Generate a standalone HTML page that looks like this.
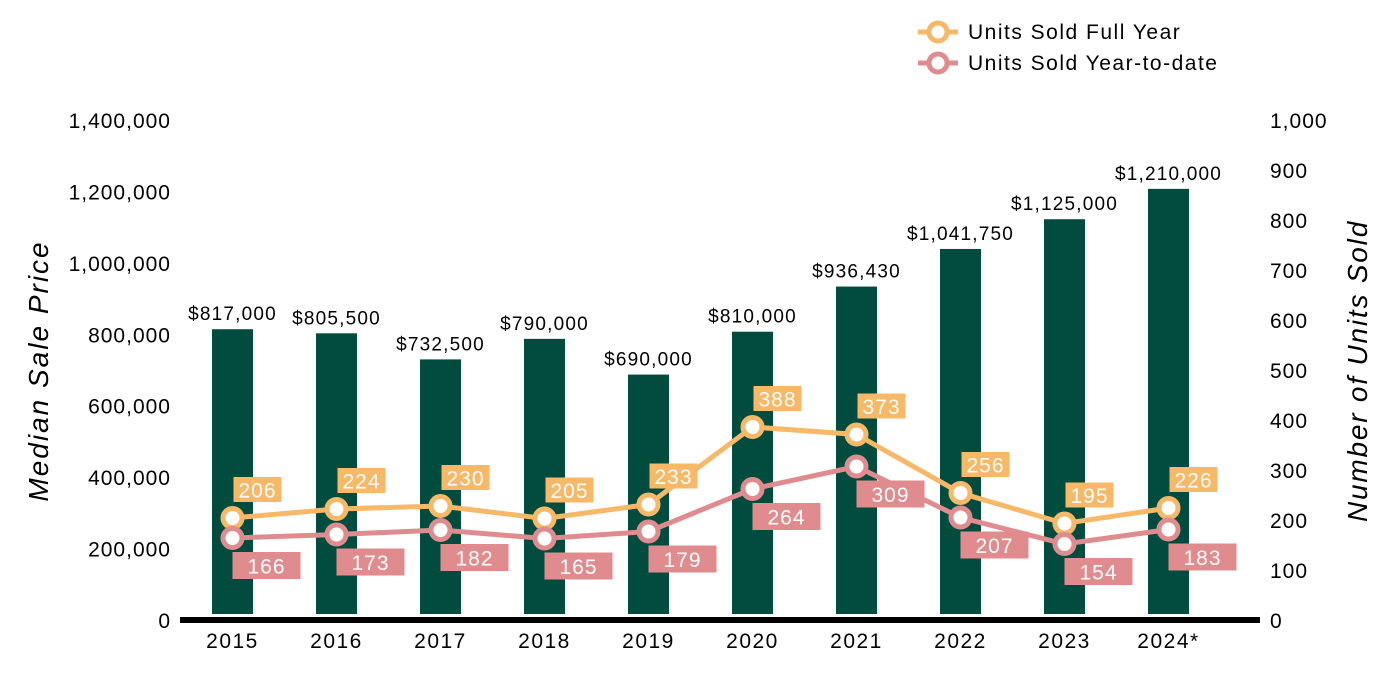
<!DOCTYPE html>
<html><head><meta charset="utf-8"><style>
body{margin:0;background:#fff;}
svg{display:block;font-family:"Liberation Sans",Arial,sans-serif;}
</style></head><body>
<svg id="c" width="1400" height="700"></svg>
<script>
const years=["2015","2016","2017","2018","2019","2020","2021","2022","2023","2024*"];
const prices=[817000,805500,732500,790000,690000,810000,936430,1041750,1125000,1210000];
const fullYear=[206,224,230,205,233,388,373,256,195,226];
const ytd=[166,173,182,165,179,264,309,207,154,183];
const leftTicks=[0,200000,400000,600000,800000,1000000,1200000,1400000];
const rightTicks=[0,100,200,300,400,500,600,700,800,900,1000];

const NS="http://www.w3.org/2000/svg";
const svg=document.getElementById('c');
const y0=621,yTop=121;
const yL=v=>y0-v/1400000*(y0-yTop);
const yR=v=>y0-v/1000*(y0-yTop);
const xC=i=>232.5+i*104;
function mk(tag,attrs,parent){const e=document.createElementNS(NS,tag);for(const k in attrs)e.setAttribute(k,attrs[k]);(parent||svg).appendChild(e);return e;}
const fmt=v=>v.toLocaleString('en-US');

leftTicks.forEach(t=>{const e=mk('text',{x:171,y:yL(t)+7,'text-anchor':'end','font-size':21,'letter-spacing':1,fill:'#000'});e.textContent=fmt(t);

});
rightTicks.forEach(t=>{const e=mk('text',{x:1270,y:yR(t)+7,'font-size':21,'letter-spacing':1,fill:'#000'});e.textContent=fmt(t);

});

let t=mk('text',{transform:'translate(48,371) rotate(-90)','text-anchor':'middle','font-size':28,'letter-spacing':2,'font-style':'italic',fill:'#000'});t.textContent='Median Sale Price';

t=mk('text',{transform:'translate(1367,371) rotate(-90)','text-anchor':'middle','font-size':28,'letter-spacing':1.8,'font-style':'italic',fill:'#000'});t.textContent='Number of Units Sold';


prices.forEach((p,i)=>{
 const b=mk('rect',{x:xC(i)-20.5,y:yL(p),width:41,height:614-yL(p),fill:'#024B3F'});
 
 
 const l=mk('text',{x:xC(i),y:yL(p)-9,'text-anchor':'middle','font-size':19,'letter-spacing':1.2,fill:'#000'});l.textContent='$'+fmt(p);
 
 
 const x=mk('text',{x:xC(i),y:648,'text-anchor':'middle','font-size':21,'letter-spacing':1.5,fill:'#000'});x.textContent=years[i];
 
 
});
const ax=mk('rect',{x:180,y:617,width:1080,height:6,fill:'#000'});


function series(vals,color,name,labelFn){
 const pl=mk('polyline',{points:vals.map((v,i)=>xC(i)+','+yR(v)).join(' '),fill:'none',stroke:color,'stroke-width':5});
 
 
 vals.forEach((v,i)=>{
  const c=mk('circle',{cx:xC(i),cy:yR(v),r:9.5,fill:'#fff',stroke:color,'stroke-width':5});
  
  
  const bx=labelFn(xC(i),yR(v));
  const r=mk('rect',{x:bx.x,y:bx.y,width:bx.w,height:bx.h,fill:color});
  
  
  const tx=mk('text',{x:bx.x+bx.w/2,y:bx.y+bx.h/2+8,'text-anchor':'middle','font-size':21,'letter-spacing':1,fill:'#fff'});tx.textContent=v;
  
  
 });
}
series(fullYear,'#F7B967','full-year',(x,y)=>({x:x+1,y:y-41,w:48,h:25}));
series(ytd,'#E08C8E','ytd',(x,y)=>({x:x,y:y+14,w:68,h:27}));

function legend(y,color,label,name){
 const l=mk('line',{x1:918,y1:y,x2:958,y2:y,stroke:color,'stroke-width':5});
 
 const c=mk('circle',{cx:938,cy:y,r:9,fill:'#fff',stroke:color,'stroke-width':5});
 
 const t=mk('text',{x:968,y:y+7,'font-size':21,'letter-spacing':1.5,fill:'#000'});t.textContent=label;
 
}
legend(32,'#F7B967','Units Sold Full Year','full-year');
legend(63,'#E08C8E','Units Sold Year-to-date','ytd');
</script>
</body></html>
